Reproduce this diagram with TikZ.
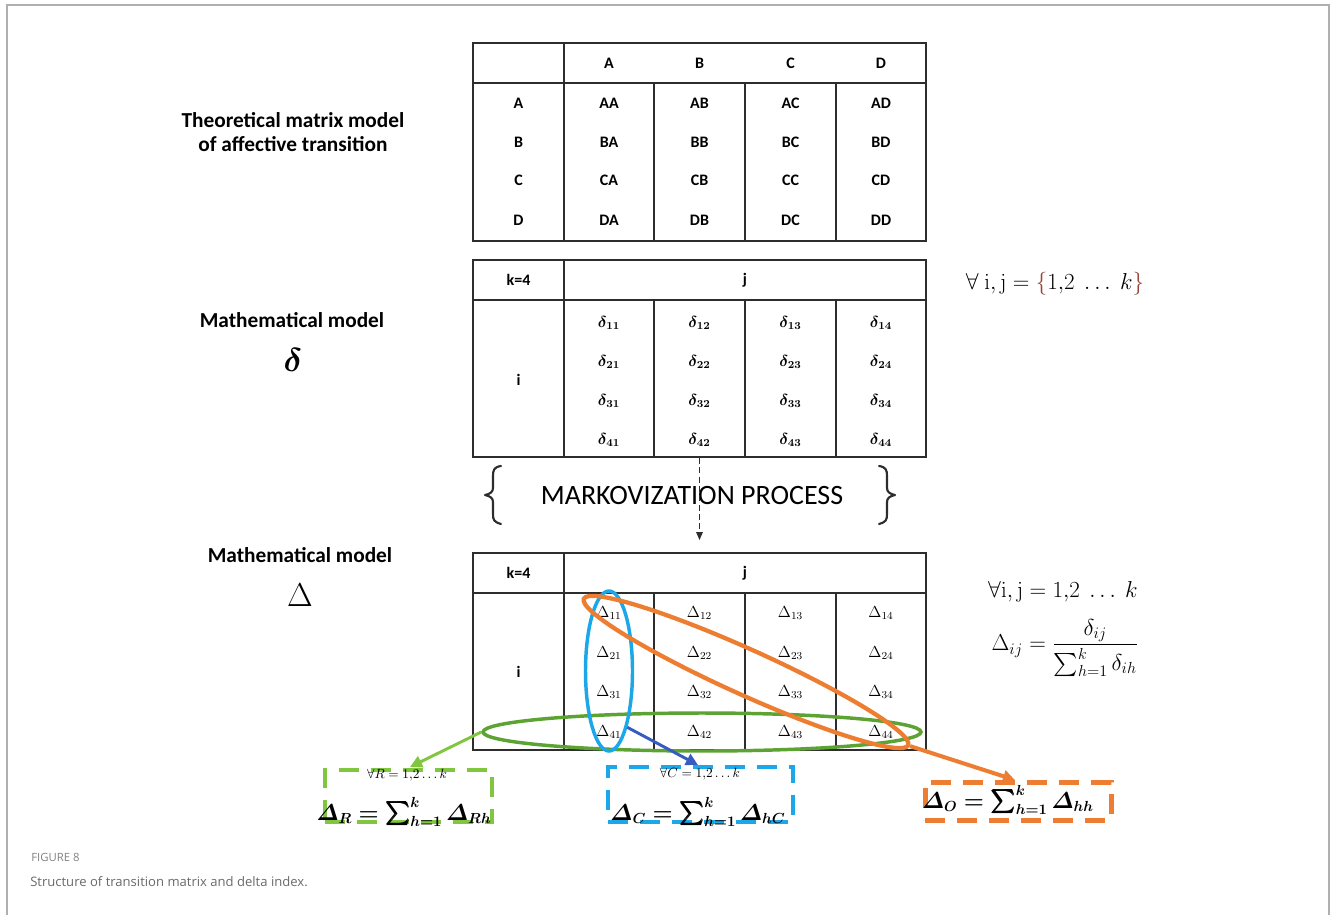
\documentclass[tikz,border=0pt]{standalone}
\usepackage{amsmath}
\usepackage{bm}
\usepackage[no-math]{fontspec}
\setmainfont{Carlito}
\newfontfamily\capfont{Open Sans}
\usetikzlibrary{shapes.geometric,arrows.meta}

\definecolor{rulecol}{RGB}{45,45,45}
\definecolor{framecol}{RGB}{175,175,175}
\definecolor{skyblue}{RGB}{28,168,232}
\definecolor{leafgreen}{RGB}{92,163,52}
\definecolor{limegreen}{RGB}{128,198,62}
\definecolor{tangerine}{RGB}{237,125,49}
\definecolor{royal}{RGB}{55,92,192}
\definecolor{umber}{RGB}{150,70,55}
\definecolor{capgray}{RGB}{105,105,105}
\definecolor{figgray}{RGB}{130,130,130}

\newcommand{\fs}[2]{\fontsize{#1}{#2}\selectfont}

\begin{document}
\begin{tikzpicture}[x=0.75pt,y=-0.75pt,
  tablebox/.style={draw=rulecol, line width=1.5pt, inner sep=0pt, rectangle},
  gridline/.style={draw=rulecol, line width=1.3pt},
  cell/.style={inner sep=0pt, font=\fs{12}{14}\bfseries},
  dcell/.style={inner sep=0pt, font=\fs{11.8}{13}},
  sidelabel/.style={inner sep=0pt, align=center, font=\fs{16}{16}\bfseries},
  ring/.style={draw, ellipse, inner sep=0pt, fill=none},
  dbox/.style={draw, dash pattern=on 15pt off 9pt, line width=3pt, inner sep=0pt},
  pointer/.style={line width=2.2pt, -{Triangle[length=9pt,width=9pt]}},
  formula/.style={inner sep=0pt, font=\fs{18.5}{22}},
  bigformula/.style={inner sep=0pt, font=\fs{16}{18}},
  smallformula/.style={inner sep=0pt, font=\fs{10}{12}},
  bracestroke/.style={draw=rulecol, line width=1.6pt, line cap=round, line join=round}]
\useasboundingbox (0,0) rectangle (1332,915);

% page frame
\draw[framecol, line width=1.5pt] (7,915) -- (7,5) -- (1329,5) -- (1329,915);

% ---------- theoretical matrix ----------
\node[tablebox, minimum width=339.75pt, minimum height=148.5pt] (T1) at (699.5,142) {};
\draw[gridline] (473,83) -- (926,83);
\draw[gridline] (564,43) -- (564,241);
\foreach \x in {654,745,836} \draw[gridline] (\x,83) -- (\x,241);
\foreach \c/\x in {A/609,B/699.5,C/790.5,D/881}
  \node[cell] (t1-h\c) at (\x,63) {\c};
\foreach \r/\y in {A/103,B/142,C/180,D/220} {
  \node[cell] (t1-r\r) at (518.5,\y) {\r};
  \foreach \c/\x in {A/609,B/699.5,C/790.5,D/881}
    \node[cell] (t1-\r\c) at (\x,\y) {\r\c};
}

% ---------- delta matrix ----------
\node[tablebox, minimum width=339.75pt, minimum height=147.75pt] (T2) at (699.5,358.5) {};
\draw[gridline] (473,300) -- (926,300);
\draw[gridline] (564,260) -- (564,457);
\foreach \x in {654,745,836} \draw[gridline] (\x,300) -- (\x,457);
\node[cell] (t2-k) at (518.5,280) {k=4};
\node[cell] (t2-j) at (745,280) {j};
\node[cell] (t2-i) at (518.5,380) {i};
\foreach \i/\y in {1/323,2/362,3/401,4/440}
  \foreach \j/\x in {1/609,2/699.5,3/790.5,4/881}
    \node[dcell] (t2-\i\j) at (\x,\y) {$\bm{\delta_{\i\j}}$};

% ---------- Delta matrix ----------
\node[tablebox, minimum width=339.75pt, minimum height=147.75pt] (T3) at (699.5,651.5) {};
\draw[gridline] (473,593) -- (926,593);
\draw[gridline] (564,553) -- (564,750);
\foreach \x in {654,745,836} \draw[gridline] (\x,593) -- (\x,750);
\node[cell] (t3-k) at (518.5,573) {k=4};
\node[cell] (t3-j) at (745,573) {j};
\node[cell] (t3-i) at (518.5,672) {i};
\foreach \i/\y in {1/613,2/653,3/692,4/732}
  \foreach \j/\x in {1/609,2/699.5,3/790.5,4/881}
    \node[dcell] (t3-\i\j) at (\x,\y) {$\Delta_{\i\j}$};

% ---------- side labels ----------
\node[sidelabel] (lab1) at (293,132) {Theoretical matrix model\\[2pt]of affective transition};
\node[sidelabel] (lab2) at (292,320) {Mathematical model};
\node[inner sep=0pt, font=\fs{31}{34}] (lab2s) at (293,360) {$\boldsymbol{\delta}$};
\node[sidelabel] (lab3) at (300,555) {Mathematical model};
\node[inner sep=0pt, font=\fs{32}{35}] (lab3s) at (300,595) {$\Delta$};

% ---------- right-hand formulas ----------
\node[formula] (f1) at (1055,284)
  {$\forall\ \mathrm{i},\mathrm{j} = \textcolor{umber}{\{}1{,}2\ \ldots\ k\textcolor{umber}{\}}$};
\node[formula] (f2) at (1063,592) {$\forall\mathrm{i},\mathrm{j} = 1{,}2\ \ldots\ k$};
\node[formula] (f3) at (1065,648)
  {$\Delta_{ij} = \dfrac{\delta_{ij}}{\textstyle\sum_{h=1}^{k}\delta_{ih}}$};

% ---------- Markovization ----------
\node[inner sep=0pt, font=\fs{21}{24}] (mk) at (692,495) {MARKOVIZATION PROCESS};
% curly brackets around the process label
\draw[bracestroke] (501,466) .. controls (494,467) and (493,470) .. (493,476)
  -- (493,488) .. controls (493,492) and (490,494) .. (485,495)
  .. controls (490,496) and (493,498) .. (493,502)
  -- (493,514) .. controls (493,520) and (494,522) .. (501,524);
\draw[bracestroke] (879,466) .. controls (886,467) and (887,470) .. (887,476)
  -- (887,488) .. controls (887,492) and (890,494) .. (895,495)
  .. controls (890,496) and (887,498) .. (887,502)
  -- (887,514) .. controls (887,520) and (886,522) .. (879,524);
\draw[rulecol, line width=0.8pt, dash pattern=on 4.5pt off 2.5pt,
      -{Triangle[length=6pt,width=5pt]}, shorten >=9pt] (T2.south) -- (T3.north);

% ---------- selection rings ----------
\node[ring, draw=leafgreen, line width=2.6pt, minimum width=328.5pt, minimum height=28.5pt] (rowring) at (702,732) {};
\node[ring, draw=skyblue, line width=2.6pt, minimum width=35.25pt, minimum height=120pt] (colring) at (609,671) {};
\node[ring, draw=tangerine, line width=3.2pt, minimum width=267pt, minimum height=34pt, rotate=-24.3] (diagring) at (746,672) {};

% ---------- index boxes ----------
\node[dbox, draw=limegreen, minimum width=125.25pt, minimum height=39pt] (rbox) at (408.5,796) {};
\node[smallformula] (rq) at (407,775) {$\forall R = 1{,}2\ldots k$};
\node[bigformula] (rf) at (404,812) {$\bm{\varDelta_R = \sum_{h=1}^{k}\varDelta_{Rh}}$};

\node[dbox, draw=skyblue, minimum width=138.75pt, minimum height=41.25pt] (cbox) at (700.5,794.5) {};
\node[smallformula] (cq) at (700,774) {$\forall C = 1{,}2\ldots k$};
\node[bigformula] (cf) at (698,812) {$\bm{\varDelta_C = \sum_{h=1}^{k}\varDelta_{hC}}$};

\node[dbox, draw=tangerine, line width=3.75pt, minimum width=139.5pt, minimum height=28.5pt] (obox) at (1018,801) {};
\node[bigformula] (of) at (1008,800) {$\bm{\varDelta_O = \sum_{h=1}^{k}\varDelta_{hh}}$};

% ---------- pointers ----------
\coordinate (rtip) at (410,767);
\coordinate (ctip) at (698,765);
\coordinate (otip) at (1015,780);
\draw[pointer, limegreen] (rowring.west) -- (rtip);
\draw[pointer, royal] (colring.-72) -- (ctip);
\draw[pointer, tangerine, line width=3pt] (diagring.east) -- (otip);

% ---------- caption ----------
\node[anchor=base west, inner sep=0pt, font=\capfont\fs{8.5}{10}, text=figgray] (figno) at (31,861) {FIGURE 8};
\node[anchor=base west, inner sep=0pt, font=\capfont\fs{9.8}{12}, text=capgray] (figcap) at (30,886)
  {Structure of transition matrix and delta index.};
\end{tikzpicture}
\end{document}
